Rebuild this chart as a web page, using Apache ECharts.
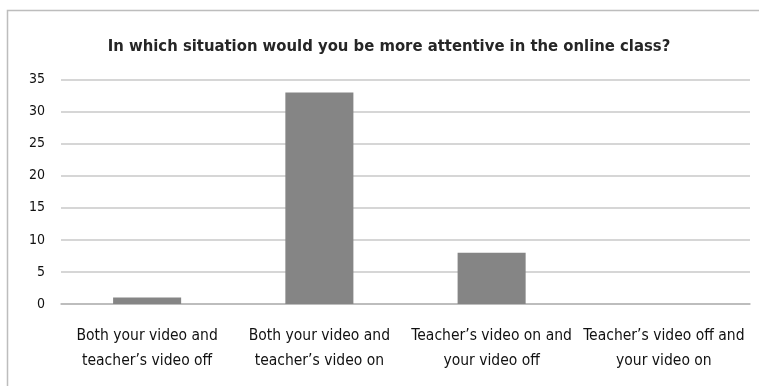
<!DOCTYPE html>
<html><head><meta charset="utf-8">
<script src="https://cdn.jsdelivr.net/npm/echarts@6/dist/echarts.min.js"></script>
<style>html,body{margin:0;padding:0;background:#fff}#c{width:759px;height:386px}</style>
</head><body><div id="c"></div>
<script>
const titleText = "In which situation would you be more attentive in the online class?";
const categories = [
  "Both your video and\nteacher’s video off",
  "Both your video and\nteacher’s video on",
  "Teacher’s video on and\nyour video off",
  "Teacher’s video off and\nyour video on"
];
const values = [1, 33, 8, 0];
const yMin = 0, yMax = 35, yStep = 5;

const FONT = '"Liberation Sans Narrow","DejaVu Sans Condensed","Roboto Condensed",sans-serif';
const chart = echarts.init(document.getElementById('c'), null, {renderer:'canvas'});
chart.setOption({
  animation:false,
  backgroundColor:'#fff',
  graphic:[{type:'rect', shape:{x:7.5,y:10.5,width:800,height:400}, style:{fill:'none',stroke:'#bdbdbd',lineWidth:1.5}, silent:true}],
  title:{text:titleText, left:384, top:33, textAlign:'center',
    textStyle:{fontFamily:FONT, fontSize:16.5, fontWeight:'bold', color:'#262626'}},
  grid:{left:61, right:9, top:79.6, bottom:82, containLabel:false},
  xAxis:{type:'category', data:categories,
    axisLine:{lineStyle:{color:'#b5b5b5', width:1.5}},
    axisTick:{show:false},
    axisLabel:{interval:0, margin:19, lineHeight:25, fontFamily:FONT, fontSize:15.5, color:'#111'}},
  yAxis:{type:'value', min:yMin, max:yMax, interval:yStep,
    axisLine:{show:false}, axisTick:{show:false},
    splitLine:{lineStyle:{color:'#c8c8c8', width:1.5}},
    axisLabel:{margin:16, fontFamily:FONT, fontSize:14, color:'#111'}},
  series:[{type:'bar', data:values, barWidth:'39.5%',
    itemStyle:{color:'#858585', borderWidth:0}}]
});
</script></body></html>
